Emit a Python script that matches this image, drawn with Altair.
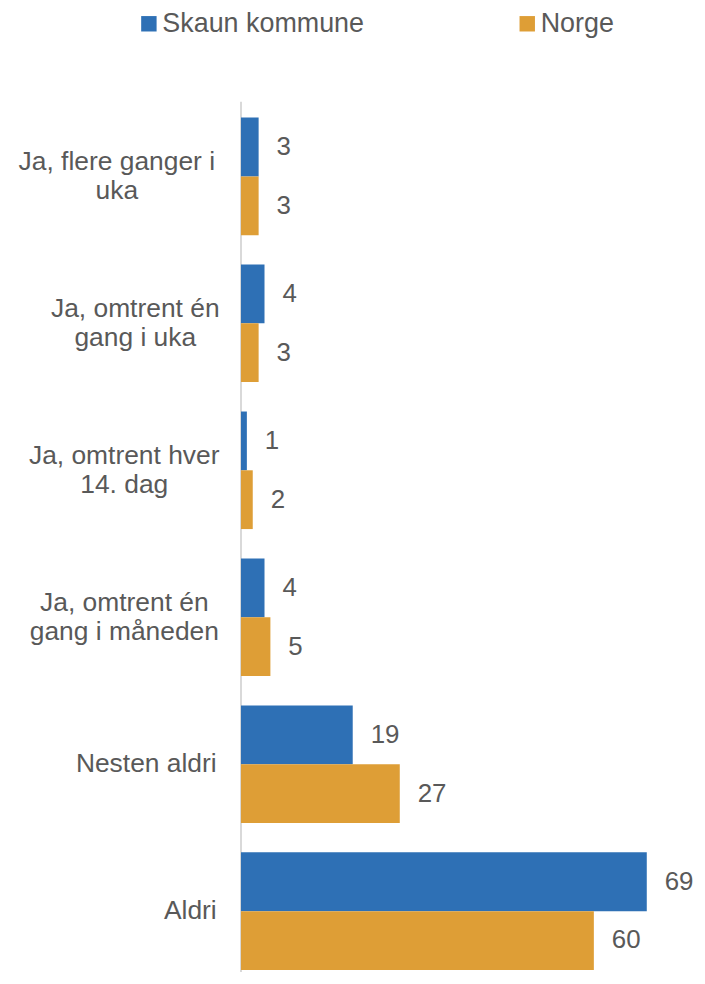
import altair as alt
import pandas as pd

# ---- data ----
categories = [
    "Ja, flere ganger i|uka",
    "Ja, omtrent én|gang i uka",
    "Ja, omtrent hver|14. dag",
    "Ja, omtrent én|gang i måneden",
    "Nesten aldri",
    "Aldri",
]
series = ["Skaun kommune", "Norge"]
skaun_values = [3, 4, 1, 4, 19, 69]
norge_values = [3, 3, 2, 5, 27, 60]
colors = ["#2E70B5", "#DE9E36"]

rows = []
for c, s, n in zip(categories, skaun_values, norge_values):
    rows.append({"cat": c, "series": series[0], "value": s})
    rows.append({"cat": c, "series": series[1], "value": n})
df = pd.DataFrame(rows)
labels_df = pd.DataFrame({"cat": categories})

FONT = "Liberation Sans"
TXT = "#595959"
LABEL_SIZE = 26.5
LINE_H = 29

y_enc = alt.Y("cat:N", sort=categories,
              scale=alt.Scale(paddingInner=0.2, paddingOuter=0), axis=None)
yoff = alt.YOffset("series:N", sort=series,
                   scale=alt.Scale(paddingInner=0, paddingOuter=0))
x_enc = alt.X("value:Q", scale=alt.Scale(domain=[0, 75]), axis=None)

bars = alt.Chart(df).mark_bar().encode(
    x=x_enc,
    y=y_enc,
    yOffset=yoff,
    color=alt.Color(
        "series:N", sort=series,
        scale=alt.Scale(domain=series, range=colors),
        legend=alt.Legend(
            title=None, orient="none", legendX=-106, legendY=-108,
            direction="horizontal", symbolType="square", symbolSize=240,
            labelFontSize=27, labelFont=FONT, labelColor=TXT, labelLimit=0,
            columnPadding=150, labelOffset=0, padding=0,
            symbolStrokeWidth=0, symbolOpacity=1,
        ),
    ),
)

vals = alt.Chart(df).mark_text(
    align="left", baseline="middle", dx=18, fontSize=26, font=FONT, color=TXT
).encode(x=x_enc, y=y_enc, yOffset=yoff, text="value:Q")


def wexpr(s):
    return (f"(0.556*length({s}) - 0.276*length(replace({s}, "
            f"regexp('[^ilfjtr,. ]','g'), '')))")


def label_layer(filter_expr, dy):
    return alt.Chart(labels_df).transform_filter(filter_expr).transform_calculate(
        lines="split(datum.cat, '|')"
    ).transform_calculate(
        w=f"max({wexpr('datum.lines[0]')}, {wexpr('peek(datum.lines)')}) * {LABEL_SIZE}"
    ).transform_calculate(
        lx="-25 - datum.w / 2"
    ).mark_text(
        align="center", baseline="middle", lineBreak="|", lineHeight=LINE_H,
        fontSize=LABEL_SIZE, font=FONT, color=TXT, dy=dy,
    ).encode(
        x=alt.X("lx:Q", scale=None),
        y=y_enc,
        text="cat:N",
    )


labels_two = label_layer("indexof(datum.cat, '|') >= 0", -LINE_H / 2)
labels_one = label_layer("indexof(datum.cat, '|') < 0", 0)

domain_rule = alt.Chart(pd.DataFrame({"a": [0]})).mark_rule(
    color="#D9D9D9", strokeWidth=2
).encode(x=alt.value(0), y=alt.value(-16), y2=alt.value(880))

chart = alt.layer(domain_rule, bars, vals, labels_two, labels_one).resolve_scale(
    x="independent"
).properties(
    width=443,
    height=856,
    autosize=alt.AutoSizeParams(type="none"),
    padding={"left": 234, "top": 108, "right": 15, "bottom": 0},
).configure_view(stroke=None)

chart.save("out.html", embed_options={"renderer": "svg", "actions": False})
